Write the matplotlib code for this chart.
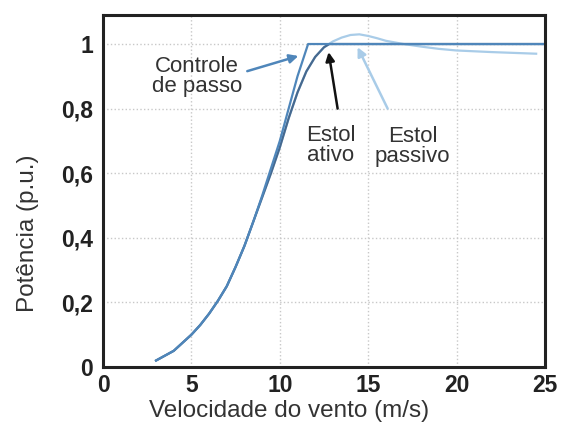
import matplotlib
matplotlib.use('Agg')
import matplotlib.pyplot as plt

plt.rcParams['font.family'] = ['Liberation Sans', 'DejaVu Sans']

# Power curves (p.u.) vs wind speed (m/s)
pitch_x = [3, 3.5, 4, 4.5, 5, 5.5, 6, 6.5, 7, 7.5, 8, 8.5, 9, 9.5, 10, 10.5, 11, 11.3, 11.6, 25]
pitch_y = [0.02, 0.035, 0.05, 0.075, 0.10, 0.13, 0.165, 0.205, 0.25, 0.31, 0.375, 0.45, 0.53,
           0.615, 0.70, 0.80, 0.90, 0.95, 1.0, 1.0]

active_x = [3, 3.5, 4, 4.5, 5, 5.5, 6, 6.5, 7, 7.5, 8, 8.5, 9, 9.5, 10, 10.5, 11, 11.5, 12, 12.5,
            12.8, 25]
active_y = [0.02, 0.035, 0.05, 0.075, 0.10, 0.13, 0.165, 0.205, 0.25, 0.31, 0.375, 0.45, 0.525,
            0.60, 0.68, 0.77, 0.85, 0.915, 0.96, 0.99, 1.0, 1.0]

passive_x = [3, 3.5, 4, 4.5, 5, 5.5, 6, 6.5, 7, 7.5, 8, 8.5, 9, 9.5, 10, 10.5, 11, 11.5, 12, 12.5,
             13, 13.5, 14, 14.5, 15, 15.5, 16, 17, 18, 19, 20, 22, 24.5]
passive_y = [0.02, 0.035, 0.05, 0.075, 0.10, 0.13, 0.165, 0.205, 0.25, 0.31, 0.375, 0.45, 0.525,
             0.60, 0.68, 0.77, 0.85, 0.915, 0.96, 0.99, 1.008, 1.02, 1.028, 1.03, 1.025, 1.018,
             1.01, 1.0, 0.992, 0.985, 0.98, 0.975, 0.97]

xticks = [0, 5, 10, 15, 20, 25]
yticks = [0, 0.2, 0.4, 0.6, 0.8, 1.0]
ytick_labels = ['0', '0,2', '0,4', '0,6', '0,8', '1']

fig = plt.figure(figsize=(5.63, 4.4), dpi=100)
ax = fig.add_axes([0.183, 0.166, 0.785, 0.800])

ax.grid(True, color='#c8c8c8', linestyle=':', linewidth=1.0)
ax.set_axisbelow(True)

ax.plot(passive_x, passive_y, color='#a9cce8', linewidth=1.6)
ax.plot(active_x, active_y, color='#46698f', linewidth=1.6)
ax.plot(pitch_x, pitch_y, color='#4f86ba', linewidth=1.6)

ax.set_xlim(0, 25)
ax.set_ylim(0, 1.09)
ax.set_xticks(xticks)
ax.set_yticks(yticks)
ax.set_yticklabels(ytick_labels)
ax.tick_params(length=0, labelsize=16.5, colors='#222222')
ax.tick_params(axis='x', pad=5)
ax.tick_params(axis='y', pad=7)
for lab in ax.get_xticklabels() + ax.get_yticklabels():
    lab.set_fontweight('bold')

for s in ax.spines.values():
    s.set_linewidth(2.2)
    s.set_color('#222222')

ax.set_xlabel('Velocidade do vento (m/s)', fontsize=17.5, color='#333333')
ax.set_ylabel('Potência (p.u.)', fontsize=17.5, color='#333333')
ax.xaxis.set_label_coords(0.42, -0.095)
ax.yaxis.set_label_coords(-0.145, 0.38)

txt = dict(ha='center', va='center', fontsize=16, color='#333333', linespacing=0.95)
ax.text(5.33, 0.90, 'Controle\nde passo', **txt)
ax.text(12.87, 0.686, 'Estol\nativo', **txt)
ax.text(17.5, 0.683, 'Estol\npassivo', **txt)

arrow = dict(arrowstyle='-|>', lw=1.8, shrinkA=0, shrinkB=0, mutation_scale=13)
ax.annotate('', xy=(11.05, 0.963), xytext=(8.16, 0.916),
            arrowprops=dict(color='#4f86ba', **arrow))
ax.annotate('', xy=(12.76, 0.975), xytext=(13.27, 0.80),
            arrowprops=dict(color='#111111', **arrow))
ax.annotate('', xy=(14.4, 0.99), xytext=(16.1, 0.80),
            arrowprops=dict(color='#a9cce8', **arrow))

fig.savefig('out.png', dpi=100)
